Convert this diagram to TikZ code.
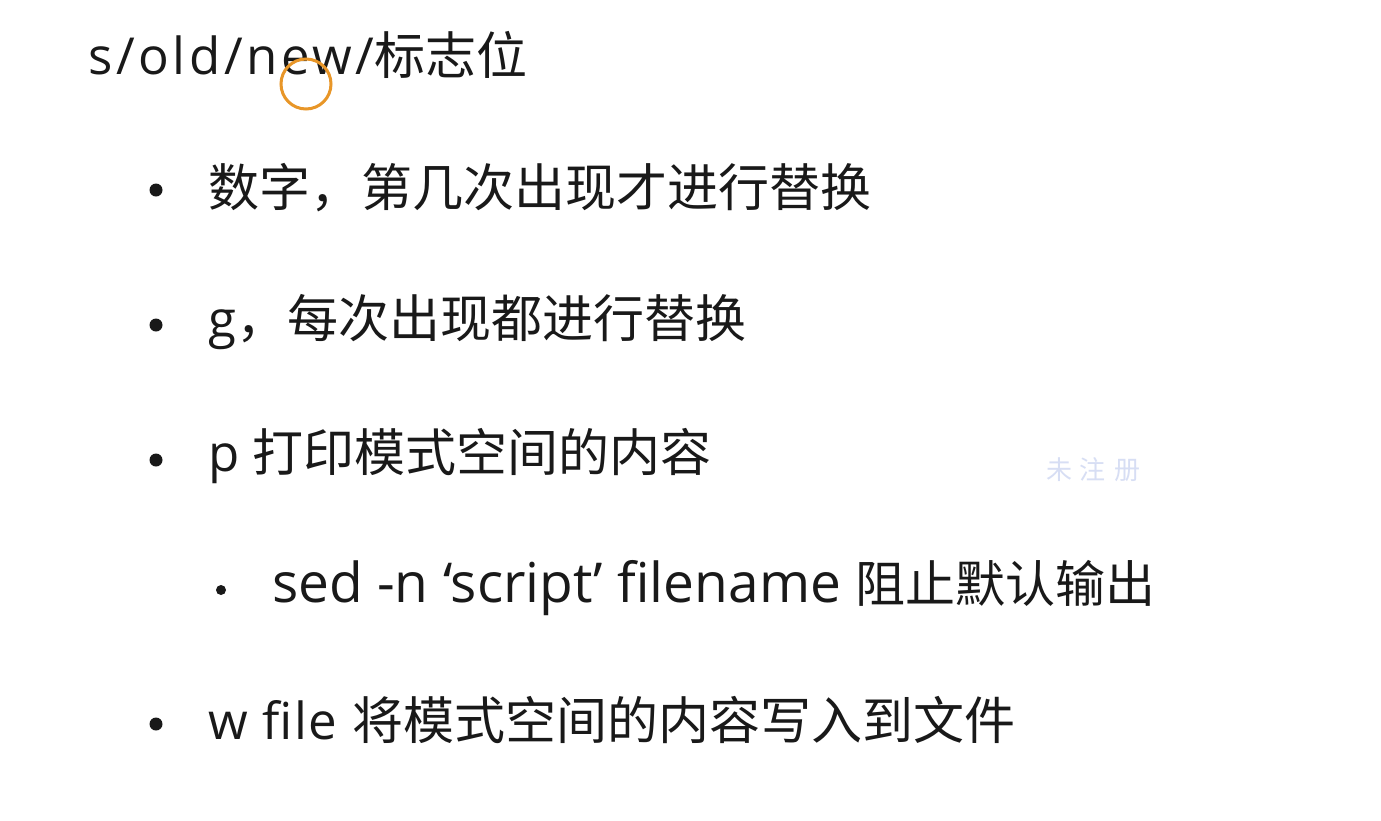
\documentclass[tikz,border=0pt]{standalone}
\usepackage{fontspec}
\setmainfont{Open Sans}
\newfontfamily\cjkf{Noto Sans CJK SC}
\newcommand{\zh}[1]{{\cjkf #1}}
\begin{document}
\begin{tikzpicture}[x=1pt,y=-1pt,
  txt/.style={anchor=west,inner sep=0pt,font=\fontsize{51}{58}\selectfont,text=black!90},
  dot/.style={circle,fill=black!90,inner sep=0pt,minimum size=13pt}]
\useasboundingbox[fill=white] (0,0) rectangle (1381,820);
\node[txt] (title) at (88,55) {{\addfontfeatures{LetterSpace=7}s/old/new/}\zh{标志位}};
\node[dot] (b1) at (156,190) {};
\node[txt] (t1) at (208,188) {\zh{数字，第几次出现才进行替换}};
\node[dot] (b2) at (156,325) {};
\node[txt] (t2) at (208,322) {g\zh{，每次出现都进行替换}};
\node[dot] (b3) at (156,460) {};
\node[txt] (t3) at (208,456) {p \zh{打印模式空间的内容}};
\node[dot,minimum size=10pt] (b4) at (221,590) {};
\node[txt] (t4) at (272,588) {{\fontsize{55}{62}\selectfont sed -n ‘script’ filename }{\cjkf\fontsize{50}{58}\selectfont 阻止默认输出}};
\node[dot] (b5) at (156,724) {};
\node[txt] (t5) at (208,720) {{\addfontfeatures{LetterSpace=3}w file }\zh{将模式空间的内容写入到文件}};
\node[circle,draw={rgb,255:red,232;green,150;blue,40},line width=3pt,minimum size=50pt,inner sep=0pt] (cur) at (306,84) {};
\node[inner sep=0pt,font=\cjkf\fontsize{26}{30}\selectfont,text={rgb,255:red,215;green,222;blue,244}] (wm) at (1093,470) {未\hspace{8pt}注\hspace{8pt}册};
\end{tikzpicture}
\end{document}
